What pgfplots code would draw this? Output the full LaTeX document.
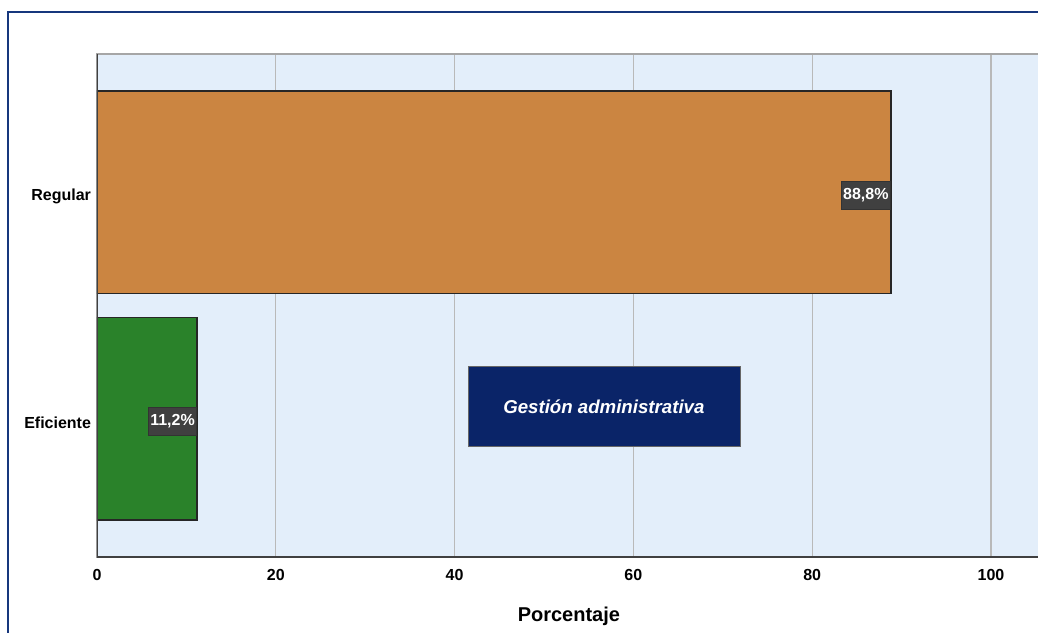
\documentclass[border=0pt]{standalone}
\usepackage{fontspec}
\setmainfont{Liberation Sans}
\usepackage{pgfplots}
\pgfplotsset{compat=1.18}

\definecolor{bgblue}{RGB}{227,238,250}
\definecolor{regcol}{RGB}{203,133,65}
\definecolor{efcol}{RGB}{42,130,42}
\definecolor{navybox}{RGB}{10,36,104}
\definecolor{framecol}{RGB}{23,55,125}
\definecolor{lblbox}{RGB}{64,64,64}

\begin{document}
\begin{tikzpicture}
% 1 px of the reference = 0.75pt
\useasboundingbox (0,0) rectangle (778.5pt,-474pt);
\clip (0,0) rectangle (778.5pt,-474pt);
\draw[framecol, line width=1.5pt] (6pt,-9pt) rectangle (820pt,-520pt);

\begin{axis}[
    at={(72.75pt,-417.75pt)}, anchor=south west,
    scale only axis,
    width=710.7pt, height=377.25pt,
    xmin=0, xmax=106,
    ymin=-0.61, ymax=1.61,
    xbar, bar width=152pt, bar shift=0pt,
    xtick={0,20,40,60,80,100},
    ytick={0,1},
    yticklabels={Eficiente,Regular},
    major tick length=0pt,
    xmajorgrids,
    grid style={gray!55, line width=0.8pt},
    axis background/.style={fill=bgblue},
    axis line style={draw=gray!70, line width=1pt},
    /pgf/number format/assume math mode=true,
    tick label style={font=\bfseries\fontsize{12}{13}\selectfont},
    xticklabel style={yshift=-6pt},
    yticklabel style={xshift=-1pt, yshift=-3pt},
    xlabel={Porcentaje},
    xlabel style={at={(axis description cs:0.498,-0.117)}, anchor=center,
        font=\bfseries\fontsize{15}{16}\selectfont},
    nodes near coords={\pgfmathprintnumber[fixed,fixed zerofill,precision=1,use comma]{\pgfplotspointmeta}\%},
    every node near coord/.append style={anchor=east, fill=lblbox, draw=black!80,
        line width=0.5pt, text=white, inner xsep=1.5pt, minimum height=21pt,
        yshift=-2pt,
        font=\bfseries\fontsize{12}{13}\selectfont},
]
\addplot[fill=regcol, draw=black!85, line width=1pt] coordinates {(88.8,1)};
\addplot[fill=efcol, draw=black!85, line width=1pt] coordinates {(11.2,0)};

\draw[black!75, line width=1.2pt] (rel axis cs:0,1) -- (rel axis cs:0,0) -- (rel axis cs:1,0);

\node[fill=navybox, draw=black!60, line width=0.5pt, text=white,
      minimum width=204pt, minimum height=60pt,
      font=\bfseries\itshape\fontsize{14}{15}\selectfont]
      at (axis cs:56.7,0.053) {Gestión administrativa};
\end{axis}
\end{tikzpicture}
\end{document}
